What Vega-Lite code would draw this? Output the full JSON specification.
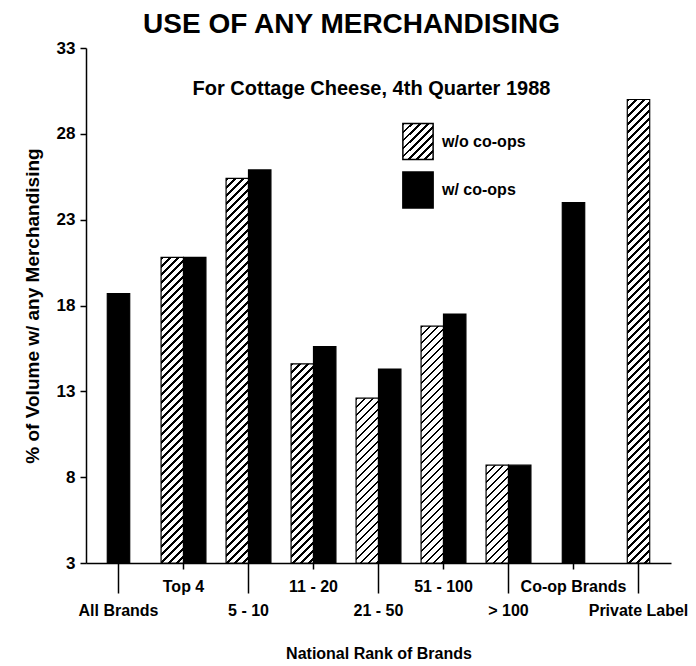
{
  "$schema": "https://vega.github.io/schema/vega-lite/v6.json",
  "autosize": {"type": "none"},
  "width": 585,
  "height": 515,
  "padding": {"left": 86, "top": 48, "right": 25, "bottom": 103},
  "background": "white",
  "config": {"view": {"stroke": null}, "font": "Liberation Sans, sans-serif"},
  "title": {"text": "USE OF ANY MERCHANDISING", "font": "Liberation Sans, sans-serif", "fontSize": 28, "fontWeight": "bold", "color": "black", "anchor": "middle", "dx": -27, "offset": 0},
  "params": [
    {"name": "hatch", "value": [
      {"offset":0,"color":"#000"},{"offset":0.005,"color":"#000"},{"offset":0.005,"color":"#fff"},{"offset":0.015625,"color":"#fff"},
      {"offset":0.015625,"color":"#000"},{"offset":0.020625,"color":"#000"},{"offset":0.020625,"color":"#fff"},{"offset":0.03125,"color":"#fff"},
      {"offset":0.03125,"color":"#000"},{"offset":0.03625,"color":"#000"},{"offset":0.03625,"color":"#fff"},{"offset":0.046875,"color":"#fff"},
      {"offset":0.046875,"color":"#000"},{"offset":0.051875,"color":"#000"},{"offset":0.051875,"color":"#fff"},{"offset":0.0625,"color":"#fff"},
      {"offset":0.0625,"color":"#000"},{"offset":0.0675,"color":"#000"},{"offset":0.0675,"color":"#fff"},{"offset":0.078125,"color":"#fff"},
      {"offset":0.078125,"color":"#000"},{"offset":0.083125,"color":"#000"},{"offset":0.083125,"color":"#fff"},{"offset":0.09375,"color":"#fff"},
      {"offset":0.09375,"color":"#000"},{"offset":0.09875,"color":"#000"},{"offset":0.09875,"color":"#fff"},{"offset":0.109375,"color":"#fff"},
      {"offset":0.109375,"color":"#000"},{"offset":0.114375,"color":"#000"},{"offset":0.114375,"color":"#fff"},{"offset":0.125,"color":"#fff"},
      {"offset":0.125,"color":"#000"},{"offset":0.13,"color":"#000"},{"offset":0.13,"color":"#fff"},{"offset":0.140625,"color":"#fff"},
      {"offset":0.140625,"color":"#000"},{"offset":0.145625,"color":"#000"},{"offset":0.145625,"color":"#fff"},{"offset":0.15625,"color":"#fff"},
      {"offset":0.15625,"color":"#000"},{"offset":0.16125,"color":"#000"},{"offset":0.16125,"color":"#fff"},{"offset":0.171875,"color":"#fff"},
      {"offset":0.171875,"color":"#000"},{"offset":0.176875,"color":"#000"},{"offset":0.176875,"color":"#fff"},{"offset":0.1875,"color":"#fff"},
      {"offset":0.1875,"color":"#000"},{"offset":0.1925,"color":"#000"},{"offset":0.1925,"color":"#fff"},{"offset":0.203125,"color":"#fff"},
      {"offset":0.203125,"color":"#000"},{"offset":0.208125,"color":"#000"},{"offset":0.208125,"color":"#fff"},{"offset":0.21875,"color":"#fff"},
      {"offset":0.21875,"color":"#000"},{"offset":0.22375,"color":"#000"},{"offset":0.22375,"color":"#fff"},{"offset":0.234375,"color":"#fff"},
      {"offset":0.234375,"color":"#000"},{"offset":0.239375,"color":"#000"},{"offset":0.239375,"color":"#fff"},{"offset":0.25,"color":"#fff"},
      {"offset":0.25,"color":"#000"},{"offset":0.255,"color":"#000"},{"offset":0.255,"color":"#fff"},{"offset":0.265625,"color":"#fff"},
      {"offset":0.265625,"color":"#000"},{"offset":0.270625,"color":"#000"},{"offset":0.270625,"color":"#fff"},{"offset":0.28125,"color":"#fff"},
      {"offset":0.28125,"color":"#000"},{"offset":0.28625,"color":"#000"},{"offset":0.28625,"color":"#fff"},{"offset":0.296875,"color":"#fff"},
      {"offset":0.296875,"color":"#000"},{"offset":0.301875,"color":"#000"},{"offset":0.301875,"color":"#fff"},{"offset":0.3125,"color":"#fff"},
      {"offset":0.3125,"color":"#000"},{"offset":0.3175,"color":"#000"},{"offset":0.3175,"color":"#fff"},{"offset":0.328125,"color":"#fff"},
      {"offset":0.328125,"color":"#000"},{"offset":0.333125,"color":"#000"},{"offset":0.333125,"color":"#fff"},{"offset":0.34375,"color":"#fff"},
      {"offset":0.34375,"color":"#000"},{"offset":0.34875,"color":"#000"},{"offset":0.34875,"color":"#fff"},{"offset":0.359375,"color":"#fff"},
      {"offset":0.359375,"color":"#000"},{"offset":0.364375,"color":"#000"},{"offset":0.364375,"color":"#fff"},{"offset":0.375,"color":"#fff"},
      {"offset":0.375,"color":"#000"},{"offset":0.38,"color":"#000"},{"offset":0.38,"color":"#fff"},{"offset":0.390625,"color":"#fff"},
      {"offset":0.390625,"color":"#000"},{"offset":0.395625,"color":"#000"},{"offset":0.395625,"color":"#fff"},{"offset":0.40625,"color":"#fff"},
      {"offset":0.40625,"color":"#000"},{"offset":0.41125,"color":"#000"},{"offset":0.41125,"color":"#fff"},{"offset":0.421875,"color":"#fff"},
      {"offset":0.421875,"color":"#000"},{"offset":0.426875,"color":"#000"},{"offset":0.426875,"color":"#fff"},{"offset":0.4375,"color":"#fff"},
      {"offset":0.4375,"color":"#000"},{"offset":0.4425,"color":"#000"},{"offset":0.4425,"color":"#fff"},{"offset":0.453125,"color":"#fff"},
      {"offset":0.453125,"color":"#000"},{"offset":0.458125,"color":"#000"},{"offset":0.458125,"color":"#fff"},{"offset":0.46875,"color":"#fff"},
      {"offset":0.46875,"color":"#000"},{"offset":0.47375,"color":"#000"},{"offset":0.47375,"color":"#fff"},{"offset":0.484375,"color":"#fff"},
      {"offset":0.484375,"color":"#000"},{"offset":0.489375,"color":"#000"},{"offset":0.489375,"color":"#fff"},{"offset":0.5,"color":"#fff"},
      {"offset":0.5,"color":"#000"},{"offset":0.505,"color":"#000"},{"offset":0.505,"color":"#fff"},{"offset":0.515625,"color":"#fff"},
      {"offset":0.515625,"color":"#000"},{"offset":0.520625,"color":"#000"},{"offset":0.520625,"color":"#fff"},{"offset":0.53125,"color":"#fff"},
      {"offset":0.53125,"color":"#000"},{"offset":0.53625,"color":"#000"},{"offset":0.53625,"color":"#fff"},{"offset":0.546875,"color":"#fff"},
      {"offset":0.546875,"color":"#000"},{"offset":0.551875,"color":"#000"},{"offset":0.551875,"color":"#fff"},{"offset":0.5625,"color":"#fff"},
      {"offset":0.5625,"color":"#000"},{"offset":0.5675,"color":"#000"},{"offset":0.5675,"color":"#fff"},{"offset":0.578125,"color":"#fff"},
      {"offset":0.578125,"color":"#000"},{"offset":0.583125,"color":"#000"},{"offset":0.583125,"color":"#fff"},{"offset":0.59375,"color":"#fff"},
      {"offset":0.59375,"color":"#000"},{"offset":0.59875,"color":"#000"},{"offset":0.59875,"color":"#fff"},{"offset":0.609375,"color":"#fff"},
      {"offset":0.609375,"color":"#000"},{"offset":0.614375,"color":"#000"},{"offset":0.614375,"color":"#fff"},{"offset":0.625,"color":"#fff"},
      {"offset":0.625,"color":"#000"},{"offset":0.63,"color":"#000"},{"offset":0.63,"color":"#fff"},{"offset":0.640625,"color":"#fff"},
      {"offset":0.640625,"color":"#000"},{"offset":0.645625,"color":"#000"},{"offset":0.645625,"color":"#fff"},{"offset":0.65625,"color":"#fff"},
      {"offset":0.65625,"color":"#000"},{"offset":0.66125,"color":"#000"},{"offset":0.66125,"color":"#fff"},{"offset":0.671875,"color":"#fff"},
      {"offset":0.671875,"color":"#000"},{"offset":0.676875,"color":"#000"},{"offset":0.676875,"color":"#fff"},{"offset":0.6875,"color":"#fff"},
      {"offset":0.6875,"color":"#000"},{"offset":0.6925,"color":"#000"},{"offset":0.6925,"color":"#fff"},{"offset":0.703125,"color":"#fff"},
      {"offset":0.703125,"color":"#000"},{"offset":0.708125,"color":"#000"},{"offset":0.708125,"color":"#fff"},{"offset":0.71875,"color":"#fff"},
      {"offset":0.71875,"color":"#000"},{"offset":0.72375,"color":"#000"},{"offset":0.72375,"color":"#fff"},{"offset":0.734375,"color":"#fff"},
      {"offset":0.734375,"color":"#000"},{"offset":0.739375,"color":"#000"},{"offset":0.739375,"color":"#fff"},{"offset":0.75,"color":"#fff"},
      {"offset":0.75,"color":"#000"},{"offset":0.755,"color":"#000"},{"offset":0.755,"color":"#fff"},{"offset":0.765625,"color":"#fff"},
      {"offset":0.765625,"color":"#000"},{"offset":0.770625,"color":"#000"},{"offset":0.770625,"color":"#fff"},{"offset":0.78125,"color":"#fff"},
      {"offset":0.78125,"color":"#000"},{"offset":0.78625,"color":"#000"},{"offset":0.78625,"color":"#fff"},{"offset":0.796875,"color":"#fff"},
      {"offset":0.796875,"color":"#000"},{"offset":0.801875,"color":"#000"},{"offset":0.801875,"color":"#fff"},{"offset":0.8125,"color":"#fff"},
      {"offset":0.8125,"color":"#000"},{"offset":0.8175,"color":"#000"},{"offset":0.8175,"color":"#fff"},{"offset":0.828125,"color":"#fff"},
      {"offset":0.828125,"color":"#000"},{"offset":0.833125,"color":"#000"},{"offset":0.833125,"color":"#fff"},{"offset":0.84375,"color":"#fff"},
      {"offset":0.84375,"color":"#000"},{"offset":0.84875,"color":"#000"},{"offset":0.84875,"color":"#fff"},{"offset":0.859375,"color":"#fff"},
      {"offset":0.859375,"color":"#000"},{"offset":0.864375,"color":"#000"},{"offset":0.864375,"color":"#fff"},{"offset":0.875,"color":"#fff"},
      {"offset":0.875,"color":"#000"},{"offset":0.88,"color":"#000"},{"offset":0.88,"color":"#fff"},{"offset":0.890625,"color":"#fff"},
      {"offset":0.890625,"color":"#000"},{"offset":0.895625,"color":"#000"},{"offset":0.895625,"color":"#fff"},{"offset":0.90625,"color":"#fff"},
      {"offset":0.90625,"color":"#000"},{"offset":0.91125,"color":"#000"},{"offset":0.91125,"color":"#fff"},{"offset":0.921875,"color":"#fff"},
      {"offset":0.921875,"color":"#000"},{"offset":0.926875,"color":"#000"},{"offset":0.926875,"color":"#fff"},{"offset":0.9375,"color":"#fff"},
      {"offset":0.9375,"color":"#000"},{"offset":0.9425,"color":"#000"},{"offset":0.9425,"color":"#fff"},{"offset":0.953125,"color":"#fff"},
      {"offset":0.953125,"color":"#000"},{"offset":0.958125,"color":"#000"},{"offset":0.958125,"color":"#fff"},{"offset":0.96875,"color":"#fff"},
      {"offset":0.96875,"color":"#000"},{"offset":0.97375,"color":"#000"},{"offset":0.97375,"color":"#fff"},{"offset":0.984375,"color":"#fff"},
      {"offset":0.984375,"color":"#000"},{"offset":0.989375,"color":"#000"},{"offset":0.989375,"color":"#fff"},{"offset":1,"color":"#fff"}
    ]}
  ],
  "datasets": {
    "bars": [
      {"category": "All Brands", "series": "w/ co-ops", "value": 18.7},
      {"category": "Top 4", "series": "w/o co-ops", "value": 20.8},
      {"category": "Top 4", "series": "w/ co-ops", "value": 20.8},
      {"category": "5 - 10", "series": "w/o co-ops", "value": 25.4},
      {"category": "5 - 10", "series": "w/ co-ops", "value": 25.9},
      {"category": "11 - 20", "series": "w/o co-ops", "value": 14.6},
      {"category": "11 - 20", "series": "w/ co-ops", "value": 15.6},
      {"category": "21 - 50", "series": "w/o co-ops", "value": 12.6},
      {"category": "21 - 50", "series": "w/ co-ops", "value": 14.3},
      {"category": "51 - 100", "series": "w/o co-ops", "value": 16.8},
      {"category": "51 - 100", "series": "w/ co-ops", "value": 17.5},
      {"category": "> 100", "series": "w/o co-ops", "value": 8.7},
      {"category": "> 100", "series": "w/ co-ops", "value": 8.7},
      {"category": "Co-op Brands", "series": "w/ co-ops", "value": 24.0},
      {"category": "Private Label", "series": "w/o co-ops", "value": 30.0}
    ],
    "notes": [
      {"note": "For Cottage Cheese, 4th Quarter 1988"}
    ]
  },
  "layer": [
    {
      "data": {"name": "bars"},
      "transform": [
        {"joinaggregate": [{"op": "count", "as": "n"}], "groupby": ["category"]},
        {"filter": "datum.n == 2"}
      ],
      "mark": {"type": "bar", "strokeWidth": 1.2},
      "encoding": {
        "x": {
          "field": "category", "type": "nominal", "sort": null,
          "scale": {"domain": ["All Brands", "Top 4", "5 - 10", "11 - 20", "21 - 50", "51 - 100", "> 100", "Co-op Brands", "Private Label"], "paddingInner": 0.31, "paddingOuter": 0.155},
          "axis": {
            "title": "National Rank of Brands",
            "labelAngle": 0,
            "labelOverlap": false,
            "labelLimit": 0,
            "tickSize": {"condition": {"test": "indexof(['Top 4','11 - 20','51 - 100','Co-op Brands'], datum.value) >= 0", "value": 6}, "value": 30},
            "tickWidth": 1.5, "tickColor": "black",
            "domainColor": "black", "domainWidth": 1.5,
            "labelFont": "Liberation Sans, sans-serif", "labelFontSize": 16, "labelFontWeight": "bold", "labelColor": "black",
            "labelBaseline": "top", "labelPadding": 9,
            "titleFont": "Liberation Sans, sans-serif", "titleFontSize": 16, "titleFontWeight": "bold", "titleColor": "black", "titlePadding": 27
          }
        },
        "y": {
          "field": "value", "type": "quantitative", "stack": null,
          "scale": {"domain": [3, 33], "zero": false, "nice": false},
          "axis": {
            "values": [3, 8, 13, 18, 23, 28, 33],
            "grid": false,
            "tickSize": 6, "tickWidth": 1.5, "tickColor": "black",
            "domainColor": "black", "domainWidth": 1.5,
            "labelFont": "Liberation Sans, sans-serif", "labelFontSize": 17, "labelFontWeight": "bold", "labelColor": "black", "labelPadding": 5,
            "title": "% of Volume w/ any Merchandising",
            "titleFont": "Liberation Sans, sans-serif", "titleFontSize": 19, "titleFontWeight": "bold", "titleColor": "black", "titlePadding": 14
          }
        },
        "xOffset": {"field": "series", "type": "nominal", "scale": {"domain": ["w/o co-ops", "w/ co-ops"], "paddingInner": 0, "paddingOuter": 0}},
        "y2": {"datum": 3},
        "fill": {
          "field": "series", "type": "nominal",
          "scale": {"domain": ["w/ co-ops", "w/o co-ops"], "range": ["black", "white"]},
          "condition": {"test": "datum.series === 'w/o co-ops'", "value": {"expr": "datum.value === 'w/ co-ops' ? 'black' : datum.value === 'w/o co-ops' ? {gradient: 'linear', x1: 0, y1: 0, x2: 512 * 30 / 2196, y2: 512 * 36 / 2196, stops: hatch} : {gradient: 'linear', x1: 0, y1: 0, x2: 512 * (bandwidth('x') / 2) / (pow(bandwidth('x') / 2, 2) + pow(scale('y', 3) - scale('y', datum.value), 2)), y2: 512 * (scale('y', 3) - scale('y', datum.value)) / (pow(bandwidth('x') / 2, 2) + pow(scale('y', 3) - scale('y', datum.value), 2)), stops: hatch}"}},
          "legend": null
        },
        "stroke": {
          "field": "series", "type": "nominal",
          "scale": {"domain": ["w/o co-ops", "w/ co-ops"], "range": ["black", "black"]},
          "legend": {
            "orient": "none", "legendX": 313, "legendY": 74.5, "title": null, "padding": 0,
            "symbolType": "M-0.84,-1H0.84V1H-0.84Z", "symbolSize": 1296,
            "symbolStrokeWidth": 1.5,
            "rowPadding": 6.5, "labelOffset": 5,
            "labelFont": "Liberation Sans, sans-serif", "labelFontSize": 16, "labelFontWeight": "bold", "labelColor": "black",
            "encode": {"symbols": {"update": {
              "fill": {"signal": "datum.value === 'w/o co-ops' ? {gradient: 'linear', x1: 0, y1: 0, x2: 512 * 30 / 2196, y2: 512 * 36 / 2196, stops: hatch} : 'black'"},
              "strokeWidth": {"value": 1.5},
              "shape": {"value": "M-0.84,-1H0.84V1H-0.84Z"},
              "size": {"value": 1296},
              "opacity": {"value": 1},
              "fillOpacity": {"value": 1}
            }}}
          }
        }
      }
    },
    {
      "data": {"name": "bars"},
      "transform": [
        {"joinaggregate": [{"op": "count", "as": "n"}], "groupby": ["category"]},
        {"filter": "datum.n == 1"}
      ],
      "mark": {"type": "bar", "strokeWidth": 1.2, "width": {"band": 0.5}},
      "encoding": {
        "x": {"field": "category", "type": "nominal", "sort": null},
        "y": {"field": "value", "type": "quantitative", "stack": null},
        "y2": {"datum": 3},
        "fill": {
          "field": "series", "type": "nominal",
          "scale": {"domain": ["w/ co-ops", "w/o co-ops"], "range": ["black", "white"]},
          "condition": {"test": "datum.series === 'w/o co-ops'", "value": {"expr": "datum.value === 'w/ co-ops' ? 'black' : datum.value === 'w/o co-ops' ? {gradient: 'linear', x1: 0, y1: 0, x2: 512 * 30 / 2196, y2: 512 * 36 / 2196, stops: hatch} : {gradient: 'linear', x1: 0, y1: 0, x2: 512 * (bandwidth('x') / 2) / (pow(bandwidth('x') / 2, 2) + pow(scale('y', 3) - scale('y', datum.value), 2)), y2: 512 * (scale('y', 3) - scale('y', datum.value)) / (pow(bandwidth('x') / 2, 2) + pow(scale('y', 3) - scale('y', datum.value), 2)), stops: hatch}"}},
          "legend": null
        },
        "stroke": {
          "field": "series", "type": "nominal",
          "scale": {"domain": ["w/o co-ops", "w/ co-ops"], "range": ["black", "black"]}
        }
      }
    },
    {
      "data": {"name": "notes"},
      "mark": {"type": "text", "font": "Liberation Sans, sans-serif", "fontSize": 20, "fontWeight": "bold", "fill": "black", "align": "center", "baseline": "middle", "dx": -7},
      "encoding": {
        "x": {"datum": "21 - 50", "type": "nominal"},
        "y": {"datum": 30.6, "type": "quantitative"},
        "text": {"field": "note", "type": "nominal"}
      }
    }
  ]
}
